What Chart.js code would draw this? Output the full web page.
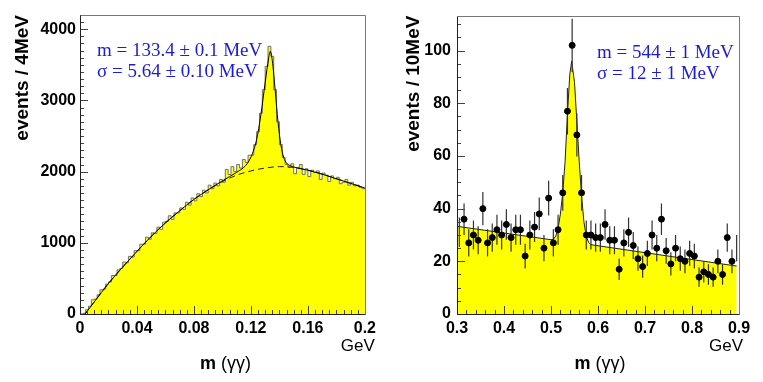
<!DOCTYPE html>
<html>
<head>
<meta charset="utf-8">
<script src="https://cdn.jsdelivr.net/npm/chart.js@4/dist/chart.umd.min.js"></script>
<style>
    body { margin: 0; background: #fff; }
    .panel { position: absolute; top: 0; height: 382px; }
    #left { left: 0; width: 381px; }
    #right { left: 381px; width: 382px; }
</style>
</head>
<body>
<div class="panel" id="left"><canvas id="pi0Chart" width="381" height="382"></canvas></div>
<div class="panel" id="right"><canvas id="etaChart" width="382" height="382"></canvas></div>
<script>
/* ================= DATA ================= */
// pi0 panel: m(γγ) histogram, 2 MeV bins from 0 to 0.2 GeV
const pi0BinWidth = 0.002;
const pi0Counts = [
    0, 10, 60, 110, 200, 210, 270, 340, 350, 420,
    450, 540, 540, 620, 640, 730, 720, 810, 800, 890,
    890, 980, 980, 1080, 1050, 1140, 1130, 1220, 1190, 1290,
    1300, 1380, 1330, 1420, 1420, 1490, 1470, 1570, 1530, 1630,
    1590, 1690, 1650, 1740, 1700, 1810, 1760, 1840, 1800, 1890,
    1850, 2030, 1960, 2070, 2000, 2100, 2050, 2170, 2130, 2230,
    2230, 2380, 2560, 2820, 3150, 3480, 3760, 3620, 3150, 2700,
    2380, 2200, 2100, 2060, 2110, 1970, 2050, 2100, 1960, 2040,
    1930, 2020, 1990, 2010, 1890, 1980, 1950, 1860, 1940, 1900,
    1920, 1830, 1850, 1890, 1810, 1850, 1800, 1810, 1780, 1760
];
const pi0FitX = [0.0035, 0.01, 0.02, 0.03, 0.04, 0.05, 0.06, 0.07, 0.08, 0.09, 0.10, 0.105, 0.11, 0.115, 0.118, 0.121, 0.124, 0.127, 0.130, 0.1325, 0.1336, 0.135, 0.137, 0.139, 0.141, 0.143, 0.145, 0.148, 0.15, 0.16, 0.17, 0.18, 0.19, 0.2];
const pi0FitY = [0, 170, 430, 660, 880, 1090, 1280, 1450, 1610, 1745, 1870, 1930, 1990, 2060, 2130, 2250, 2450, 2800, 3250, 3600, 3690, 3560, 3150, 2700, 2380, 2200, 2120, 2080, 2065, 2020, 1965, 1900, 1835, 1770];
const pi0BgX = [0.0035, 0.01, 0.02, 0.03, 0.04, 0.05, 0.06, 0.07, 0.08, 0.09, 0.10, 0.11, 0.12, 0.13, 0.14, 0.15, 0.16, 0.17, 0.18, 0.19, 0.2];
const pi0BgY = [0, 170, 430, 660, 880, 1090, 1280, 1450, 1610, 1745, 1860, 1950, 2010, 2050, 2070, 2060, 2020, 1965, 1900, 1835, 1770];
const pi0XTicks = [0, 0.04, 0.08, 0.12, 0.16, 0.2];
const pi0YTicks = [0, 1000, 2000, 3000, 4000];
const pi0Text = ["m = 133.4 ± 0.1 MeV", "σ = 5.64 ± 0.10 MeV"];

// eta panel: points with errors, 10 MeV bins
const etaMass = [
    0.305, 0.315, 0.325, 0.335, 0.345, 0.355, 0.365, 0.375, 0.385, 0.395,
    0.405, 0.415, 0.425, 0.435, 0.445, 0.455, 0.465, 0.475, 0.485, 0.495,
    0.505, 0.515, 0.525, 0.535, 0.545, 0.555, 0.565, 0.575, 0.585, 0.595,
    0.605, 0.615, 0.625, 0.635, 0.645, 0.655, 0.665, 0.675, 0.685, 0.695,
    0.705, 0.715, 0.725, 0.735, 0.745, 0.755, 0.765, 0.775, 0.785, 0.795,
    0.805, 0.815, 0.825, 0.835, 0.845, 0.855, 0.865, 0.875, 0.885, 0.895
];
const etaCounts = [
    31, 36, 27, 30, 28, 40, 27, 29, 32, 30,
    34, 29, 32, 32, 22, 30, 33, 38, 25, 44,
    27, 32, 46, 77, 102, 68, 46, 30, 30, 29,
    29, 34, 28, 28, 17, 27, 31, 26, 21, 18,
    23, 30, 25, 36, 24, 19, 25, 21, 20, 23,
    22, 14, 16, 15, 14, 20, 15, 29, 20, 25
];
const etaErrors = [
    5.6, 6.0, 5.2, 5.5, 5.3, 6.3, 5.2, 5.4, 5.7, 5.5,
    5.8, 5.4, 5.7, 5.7, 4.7, 5.5, 5.7, 6.2, 5.0, 6.6,
    5.2, 5.7, 6.8, 8.8, 10.1, 8.2, 6.8, 5.5, 5.5, 5.4,
    5.4, 5.8, 5.3, 5.3, 4.1, 5.2, 5.6, 5.1, 4.6, 4.2,
    4.8, 5.5, 5.0, 6.0, 4.9, 4.4, 5.0, 4.6, 4.5, 4.8,
    4.7, 3.7, 4.0, 3.9, 3.7, 4.5, 3.9, 5.4, 4.5, 5.0
];
const etaFitX = [0.3, 0.5, 0.505, 0.51, 0.515, 0.52, 0.525, 0.53, 0.535, 0.54, 0.544, 0.55, 0.555, 0.56, 0.565, 0.57, 0.575, 0.58, 0.585, 0.895];
const etaFitY = [33.3, 28.2, 28.4, 29.5, 32.5, 38, 46, 58, 76, 91, 96, 88, 73, 58, 45, 35, 29.5, 27.2, 26.3, 18.2];
const etaXTicks = [0.3, 0.4, 0.5, 0.6, 0.7, 0.8, 0.9];
const etaYTicks = [0, 20, 40, 60, 80, 100];
const etaText = ["m = 544 ± 1 MeV", "σ = 12 ± 1 MeV"];

/* ================= STYLE ================= */
const SANS = "'Liberation Sans', Arial, Helvetica, sans-serif";
const SERIF = "'Liberation Serif', 'Times New Roman', serif";
const YELLOW = "#ffff00";
const BLUE = "#1c1cd2";

const zip = (xs, ys) => xs.map((x, i) => ({ x, y: ys[i] }));
const fmt = v => String(+Number(v).toFixed(3));

/* ================= PLUGINS ================= */
// ROOT-like frame with inward tick marks
const frameTicks = {
    id: "frameTicks",
    afterDatasetsDraw(chart, args, o) {
        const { ctx, chartArea: a, scales: { x, y } } = chart;
        ctx.save();
        ctx.lineWidth = 1;
        ctx.strokeStyle = "#444";
        ctx.beginPath();
        const nx = Math.round((x.max - x.min) / o.xMinor);
        for (let i = 0; i <= nx; i++) {
            const v = x.min + i * o.xMinor;
            const r = v / o.xMajor;
            const len = Math.abs(r - Math.round(r)) < 1e-6 ? 8 : 4;
            const px = Math.round(x.getPixelForValue(v)) + 0.5;
            ctx.moveTo(px, a.bottom);
            ctx.lineTo(px, a.bottom - len);
        }
        const ny = Math.floor((y.max - y.min) / o.yMinor + 1e-6);
        for (let i = 0; i <= ny; i++) {
            const v = y.min + i * o.yMinor;
            const r = v / o.yMajor;
            const len = Math.abs(r - Math.round(r)) < 1e-6 ? 8 : 4;
            const py = Math.round(y.getPixelForValue(v)) + 0.5;
            ctx.moveTo(a.left, py);
            ctx.lineTo(a.left + len, py);
        }
        ctx.stroke();

        const L = Math.round(a.left) + 0.5, R = Math.round(a.right) + 0.5;
        const T = Math.round(a.top) + 0.5, B = Math.round(a.bottom) + 0.5;
        ctx.strokeStyle = "#777";
        ctx.beginPath();
        ctx.moveTo(L, T); ctx.lineTo(R, T); ctx.lineTo(R, B);
        ctx.stroke();
        ctx.strokeStyle = "#222";
        ctx.beginPath();
        ctx.moveTo(L, T); ctx.lineTo(L, B); ctx.lineTo(R, B);
        ctx.stroke();
        ctx.restore();
    }
};

// fit results, unit label and x title
const panelText = {
    id: "panelText",
    afterDraw(chart, args, o) {
        const { ctx, chartArea: a } = chart;
        ctx.save();
        ctx.textBaseline = "middle";
        ctx.fillStyle = BLUE;
        ctx.font = `19px ${SERIF}`;
        o.lines.forEach((t, i) => ctx.fillText(t, o.textX, o.textY + i * 21));

        ctx.fillStyle = "#000";
        ctx.textAlign = "right";
        ctx.font = `17px ${SANS}`;
        ctx.fillText("GeV", a.right + o.gevDx, 346);

        ctx.textAlign = "left";
        const bold = `bold 18px ${SANS}`, plain = `18px ${SANS}`;
        ctx.font = bold;
        const w1 = ctx.measureText("m ").width;
        ctx.font = plain;
        const w2 = ctx.measureText("(γγ)").width;
        const x0 = (a.left + a.right) / 2 + o.titleDx - (w1 + w2) / 2;
        ctx.font = bold;
        ctx.fillText("m ", x0, 364);
        ctx.font = plain;
        ctx.fillText("(γγ)", x0 + w1, 364);
        ctx.restore();
    }
};

// vertical error bars, drawn right after the filled fit so the markers sit on top
const errorBars = {
    id: "errorBars",
    afterDatasetDraw(chart, args, o) {
        if (args.index !== o.afterIndex) return;
        const { ctx, scales: { x, y } } = chart;
        ctx.save();
        ctx.strokeStyle = "#333";
        ctx.lineWidth = 1.2;
        ctx.beginPath();
        o.xs.forEach((m, i) => {
            const px = x.getPixelForValue(m);
            ctx.moveTo(px, y.getPixelForValue(o.ys[i] - o.errs[i]));
            ctx.lineTo(px, y.getPixelForValue(o.ys[i] + o.errs[i]));
        });
        ctx.stroke();
        ctx.restore();
    }
};

/* ================= AXES ================= */
function axisX(min, max, ticks, height) {
    return {
        type: "linear",
        min, max,
        afterBuildTicks: s => { s.ticks = ticks.map(v => ({ value: v })); },
        afterFit: s => { s.height = height; },
        grid: { display: false, drawTicks: false },
        border: { display: false },
        ticks: {
            color: "#000",
            padding: 5,
            maxRotation: 0,
            autoSkip: false,
            font: { family: SANS, size: 16, weight: "bold" },
            callback: v => fmt(v)
        }
    };
}

function axisY(min, max, ticks, width, title, titlePad, labelPad) {
    return {
        type: "linear",
        min, max,
        afterBuildTicks: s => { s.ticks = ticks.map(v => ({ value: v })); },
        afterFit: s => { s.width = width; },
        grid: { display: false, drawTicks: false },
        border: { display: false },
        ticks: {
            color: "#000",
            padding: labelPad,
            autoSkip: false,
            font: { family: SANS, size: 16, weight: "bold" },
            callback: v => fmt(v)
        },
        title: {
            display: true,
            text: title,
            align: "end",
            color: "#000",
            padding: { top: titlePad, bottom: 0 },
            font: { family: SANS, size: 19, weight: "bold" }
        }
    };
}

/* ================= CHARTS ================= */
function buildPi0Chart() {
    const steps = pi0Counts.map((c, i) => ({ x: i * pi0BinWidth, y: c }));
    steps.push({ x: pi0Counts.length * pi0BinWidth, y: pi0Counts[pi0Counts.length - 1] });

    return new Chart(document.getElementById("pi0Chart"), {
        type: "line",
        data: {
            datasets: [
                {
                    label: "fit",
                    data: zip(pi0FitX, pi0FitY),
                    borderColor: "#000",
                    borderWidth: 1,
                    cubicInterpolationMode: "monotone",
                    pointRadius: 0,
                    fill: false,
                    order: 1
                },
                {
                    label: "background",
                    data: zip(pi0BgX, pi0BgY),
                    borderColor: "#222",
                    borderWidth: 1,
                    borderDash: [6, 4],
                    cubicInterpolationMode: "monotone",
                    pointRadius: 0,
                    fill: false,
                    order: 2
                },
                {
                    label: "data",
                    data: steps,
                    stepped: "before",
                    borderColor: "#707070",
                    borderWidth: 1,
                    backgroundColor: YELLOW,
                    pointRadius: 0,
                    fill: "origin",
                    order: 3
                }
            ]
        },
        options: {
            responsive: false,
            animation: false,
            layout: { padding: { top: 15, right: 14, left: 0, bottom: 0 } },
            plugins: {
                legend: { display: false },
                tooltip: { enabled: false },
                frameTicks: { xMinor: 0.005, xMajor: 0.04, yMinor: 100, yMajor: 1000 },
                panelText: { lines: pi0Text, textX: 97, textY: 51, gevDx: 10, titleDx: 3 }
            },
            scales: {
                x: axisX(0, 0.2, pi0XTicks, 68),
                y: axisY(0, 4200, pi0YTicks, 80, "events / 4MeV", 11, 4)
            }
        },
        plugins: [frameTicks, panelText]
    });
}

function buildEtaChart() {
    const last = etaMass.length - 1;
    return new Chart(document.getElementById("etaChart"), {
        type: "line",
        data: {
            datasets: [
                {
                    label: "data",
                    type: "scatter",
                    data: zip(etaMass, etaCounts),
                    backgroundColor: "#000",
                    borderColor: "#000",
                    pointRadius: c => (c.dataIndex === 0 || c.dataIndex === last ? 0 : 3),
                    showLine: false,
                    order: 1
                },
                {
                    label: "fit",
                    data: zip(etaFitX, etaFitY),
                    borderColor: "#222",
                    borderWidth: 1,
                    backgroundColor: YELLOW,
                    tension: 0,
                    pointRadius: 0,
                    fill: "origin",
                    order: 2
                }
            ]
        },
        options: {
            responsive: false,
            animation: false,
            layout: { padding: { top: 14, right: 24, left: 0, bottom: 0 } },
            plugins: {
                legend: { display: false },
                tooltip: { enabled: false },
                frameTicks: { xMinor: 0.02, xMajor: 0.1, yMinor: 5, yMajor: 20 },
                panelText: { lines: etaText, textX: 216, textY: 53, gevDx: 4, titleDx: 2 },
                errorBars: { afterIndex: 1, xs: etaMass, ys: etaCounts, errs: etaErrors }
            },
            scales: {
                x: axisX(0.3, 0.9, etaXTicks, 68),
                y: axisY(0, 113.3, etaYTicks, 76, "events / 10MeV", 21, 6)
            }
        },
        plugins: [frameTicks, panelText, errorBars]
    });
}

buildPi0Chart();
buildEtaChart();
</script>
</body>
</html>
